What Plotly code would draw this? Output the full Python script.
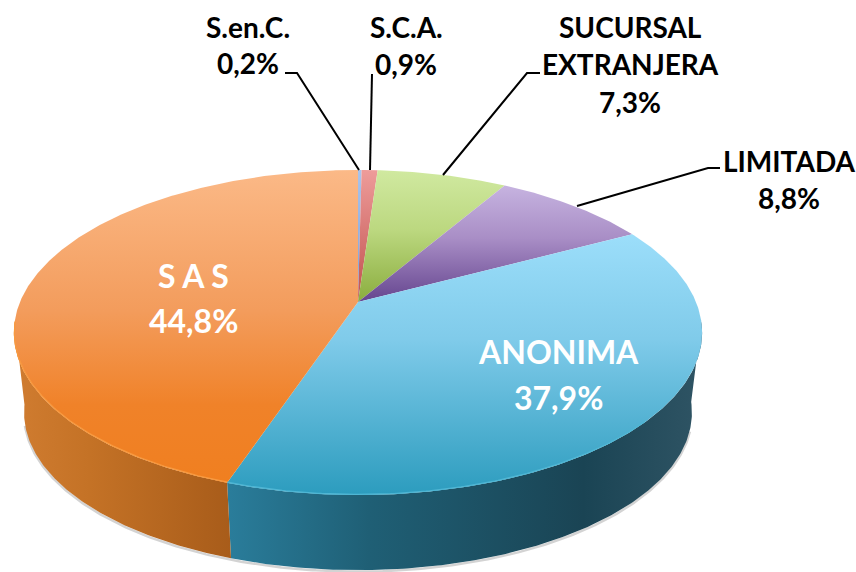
import numpy as np
import plotly.graph_objects as go

# ---- chart data (clockwise from 12 o'clock) ----
categories = ["S.en.C.", "S.C.A.", "SUCURSAL<br>EXTRANJERA", "LIMITADA", "ANONIMA", "S A S"]
shares = [0.2, 0.9, 7.3, 8.8, 37.9, 44.8]

# ---- styling ----
top_scales = [
    [[0, "#a9c4ec"], [1, "#7f9fd4"]],
    [[0, "#ee9c9a"], [1, "#c0504d"]],
    [[0, "#d0e9a0"], [0.45, "#bcd880"], [1, "#8aad3e"]],
    [[0, "#c6b3e0"], [0.45, "#a98ec6"], [1, "#65458f"]],
    [[0, "#9cdefa"], [0.4, "#80cbea"], [1, "#2c9cbe"]],
    [[0, "#fbb987"], [0.45, "#f39c5c"], [0.75, "#f08229"], [1, "#f07f20"]],
]
side_scales = {
    4: [[0, "#2a7d9b"], [0.3, "#1f5f75"], [0.75, "#1a4454"], [1, "#2f5464"]],
    5: [[0, "#d07c30"], [0.35, "#c47226"], [1, "#a85c1a"]],
}
rim_colors = {4: "#4fb6d4", 5: "#f89a40"}

# projective view of the pie disc
CX, CY_TOP, R_TOP, A_TOP = 358.0, 302.0, 338.0, 156.8
CY_BOT, R_BOT, A_BOT = 383.0, 328.0, 152.0
K = 0.1877
SIDE_FROM, SIDE_TO = 97.0, 263.0


def project(deg, cy, r, a):
    t = np.radians(deg)
    u, v = np.sin(t), np.cos(t)
    w = 1 + K * v
    return CX + r * u / w, cy - a * v / w


def arc(a0, a1):
    n = max(2, int(abs(a1 - a0) * 2) + 1)
    return np.linspace(a0, a1, n)


fractions = np.array(shares) / sum(shares) * 360
ends = np.cumsum(fractions)
starts = ends - fractions

fig = go.Figure()

# soft shadow under the base
sx, sy = project(arc(SIDE_FROM + 10, SIDE_TO - 8), CY_BOT + 1.5, R_BOT, A_BOT)
fig.add_trace(go.Scatter(x=sx, y=sy, mode="lines", line=dict(color="rgba(130,130,130,0.35)", width=2.5),
                         hoverinfo="skip", showlegend=False))

# side walls
for i in side_scales:
    a0, a1 = max(starts[i], SIDE_FROM), min(ends[i], SIDE_TO)
    ang = arc(a0, a1)
    xt, yt = project(ang, CY_TOP, R_TOP, A_TOP)
    xb, yb = project(ang[::-1], CY_BOT, R_BOT, A_BOT)
    xs = np.concatenate([xt, xb, xt[:1]])
    ys = np.concatenate([yt, yb, yt[:1]])
    fig.add_trace(go.Scatter(
        x=xs, y=ys, mode="lines", line=dict(width=0), fill="toself",
        fillgradient=dict(type="horizontal", colorscale=side_scales[i],
                          start=float(xs.min()), stop=float(xs.max())),
        hoverinfo="skip", showlegend=False))

# top slices
for i, cat in enumerate(categories):
    ang = arc(starts[i], ends[i])
    xa, ya = project(ang, CY_TOP, R_TOP, A_TOP)
    xs = np.concatenate([[CX], xa, [CX]])
    ys = np.concatenate([[CY_TOP], ya, [CY_TOP]])
    fig.add_trace(go.Scatter(
        x=xs, y=ys, mode="lines", line=dict(width=0), fill="toself",
        fillgradient=dict(type="vertical", colorscale=top_scales[i],
                          start=float(ys.min()), stop=float(ys.max())),
        name=cat.replace("<br>", " "), hoverinfo="name", showlegend=False))

# bright rim on the front edge
for i, col in rim_colors.items():
    ang = arc(max(starts[i], SIDE_FROM + 35 if i == 4 else SIDE_FROM), min(ends[i], SIDE_TO))
    xa, ya = project(ang, CY_TOP, R_TOP - 0.5, A_TOP - 0.5)
    fig.add_trace(go.Scatter(x=xa, y=ya, mode="lines", line=dict(color=col, width=1.3),
                             hoverinfo="skip", showlegend=False))

pct = [f"{s:.1f}".replace(".", ",") + "%" for s in shares]
FONT = "Lato, 'Open Sans', sans-serif"
# centre x and the y of each text line
label_pos = [
    (248, [27, 63]),
    (406, [27, 64]),
    (630, [27, 64, 102]),
    (789, [161, 198]),
    (558, [351, 397]),
    (193, [275, 320]),
]
label_col = ["#000000"] * 4 + ["#ffffff"] * 2
label_size = [28, 28, 28, 28, 32, 32]
annotations = []
for cat, p, (x, ys_), col, sz in zip(categories, pct, label_pos, label_col, label_size):
    lines = cat.split("<br>") + [p]
    for line, y in zip(lines, ys_):
        annotations.append(dict(x=x, y=y, xref="x", yref="y", text=f"<b>{line}</b>", showarrow=False,
                                xanchor="center", yanchor="middle",
                                font=dict(family=FONT, size=sz, color=col)))

leaders = [
    "M285,73 L297,73 L359,170",
    "M372,74 L370,170",
    "M540,73 L527,73 L443,175",
    "M720,168 L708,168 L577,206",
]
shapes = [dict(type="path", path=p, xref="x", yref="y", line=dict(color="#000000", width=2)) for p in leaders]

fig.update_layout(
    width=856, height=572, margin=dict(l=0, r=0, t=0, b=0),
    paper_bgcolor="#ffffff", plot_bgcolor="#ffffff",
    xaxis=dict(range=[0, 856], visible=False, fixedrange=True),
    yaxis=dict(range=[572, 0], visible=False, fixedrange=True),
    annotations=annotations, shapes=shapes, showlegend=False,
)
fig.write_html("out.html", config=dict(displayModeBar=False), default_width="856px", default_height="572px",
               post_script="document.body.style.margin='0';document.body.style.overflow='hidden';")
